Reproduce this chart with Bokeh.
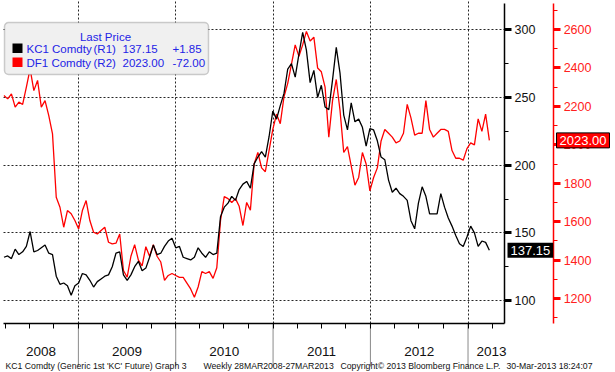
import pandas as pd
from bokeh.plotting import figure
from bokeh.models import (LinearAxis, Range1d, FixedTicker, SingleIntervalTicker,
                          Label, BoxAnnotation)
from bokeh.embed import file_html
from bokeh.resources import INLINE

FONT = "Liberation Sans"

# ---------------- data (bi-weekly readings) ----------------
dates = pd.date_range("2008-03-28", periods=131, freq="14D")

kc1 = [132, 133, 131, 138, 134, 136, 140, 151, 136, 137,
       139, 141, 135, 134, 118, 112, 113, 111, 104, 111,
       113, 120, 119, 115, 110, 114, 116, 118, 119, 125,
       135, 136, 119, 115, 119, 125, 129, 122, 124, 132,
       141, 134, 135, 140, 144, 146, 139, 140, 132, 131,
       130, 132, 139, 135, 132, 136, 134, 135, 162, 169,
       172, 177, 174, 182, 186, 188, 183, 201, 206, 210,
       206, 221, 240, 234, 244, 253, 271, 275, 265, 282,
       298, 285, 261, 270, 250, 259, 243, 241, 263, 287,
       268, 237, 226, 246, 232, 234, 228, 214, 227, 226,
       218, 206, 204, 189, 180, 183, 179, 177, 174, 159,
       153, 172, 184, 177, 164, 164, 164, 179, 169, 161,
       155, 148, 142, 140, 147, 155, 150, 140, 144, 143,
       137.15]

df1 = [2256, 2239, 2265, 2196, 2222, 2210, 2300, 2395, 2282, 2335,
       2196, 2230, 2152, 2057, 1727, 1675, 1571, 1658, 1641, 1606,
       1562, 1658, 1710, 1606, 1545, 1536, 1554, 1571, 1493, 1484,
       1488, 1536, 1346, 1311, 1420, 1480, 1400, 1370, 1470, 1420,
       1480, 1420, 1390, 1294, 1320, 1330, 1320, 1310, 1310, 1280,
       1250, 1207, 1260, 1340, 1330, 1340, 1305, 1360, 1606, 1730,
       1720, 1700, 1720, 1680, 1580, 1700, 1660, 1900, 1960, 1880,
       1860, 1970, 2080, 2160, 2110, 2250, 2320, 2420, 2520, 2460,
       2520, 2590, 2540, 2560, 2400, 2380, 2300, 2040, 2230, 2340,
       2180, 1960, 1990, 1890, 1790, 1830, 1960, 1900, 1760, 1830,
       1880, 2020, 2080, 2060, 2040, 2010, 2020, 2060, 2210, 2140,
       2050, 2060, 2060, 2230, 2080, 2040, 2060, 2080, 2080, 2070,
       1970, 1930, 1930, 1920, 1980, 2010, 2000, 2135, 2070, 2160,
       2023]

year_labels = ["2008", "2009", "2010", "2011", "2012", "2013"]
year_label_dates = ["2008-08-14", "2009-07-02", "2010-07-02", "2011-07-02",
                    "2012-07-02", "2013-03-30"]
year_bounds = ["2009-01-01", "2010-01-01", "2011-01-01", "2012-01-01", "2013-01-01"]
quarter_dates = pd.date_range("2008-04-01", "2013-04-01", freq="QS")
r1_grid_values = [100, 150, 200, 250, 300]

legend_title = "Last Price"
legend_rows = [("KC1 Comdty", "(R1)", "137.15", "+1.85", "black"),
               ("DF1 Comdty", "(R2)", "2023.00", "-72.00", "#ff0000")]
footer_parts = ["KC1 Comdty (Generic 1st 'KC' Future) Graph 3",
                "Weekly 28MAR2008-27MAR2013",
                "Copyright\u00a9 2013 Bloomberg Finance L.P.",
                "30-Mar-2013 18:24:07"]


def ms(d):
    return int(pd.Timestamp(d).value // 10**6)


W, H = 615, 372
X_START, X_END = "2008-03-15", "2014-07-08"
PLOT_LEFT = "2008-03-27"       # left end of axis line / grid
R1_AXIS_AT = "2013-05-18"      # where the R1 (black) axis sits
R2_AXIS_AT = "2013-11-18"      # where the R2 (red) axis sits
R1_RANGE = (46.9, 321.6)
R2_RANGE = (815, 2751)
R1_BOUNDS = (83.3, 319.4)
R2_BOUNDS = (1070, 2735)

p = figure(width=W, height=H, x_axis_type="datetime", y_axis_location="right",
           x_range=Range1d(pd.Timestamp(X_START), pd.Timestamp(X_END)),
           y_range=Range1d(*R1_RANGE),
           output_backend="svg", toolbar_location=None,
           min_border=0, min_border_left=0, min_border_right=0,
           min_border_top=0, min_border_bottom=0,
           background_fill_color="white", border_fill_color="white",
           outline_line_color=None)

p.extra_y_ranges = {"red": Range1d(*R2_RANGE)}

# grids
r1_ticker = SingleIntervalTicker(interval=50, num_minor_ticks=2)
xg, yg = p.xgrid[0], p.ygrid[0]
xg.ticker = FixedTicker(ticks=[ms(d) for d in year_bounds])
yg.ticker = FixedTicker(ticks=r1_grid_values)
for g in (xg, yg):
    g.grid_line_color = "black"
    g.grid_line_dash = "2 2"
    g.grid_line_alpha = 0.85
    g.grid_line_width = 1
try:
    xg.cross_bounds = (R1_BOUNDS[0], R1_RANGE[1])
    yg.cross_bounds = (ms(PLOT_LEFT), ms(R1_AXIS_AT))
except Exception:
    xg.visible = False
    yg.visible = False
    p.segment(x0=[pd.Timestamp(d) for d in year_bounds],
              x1=[pd.Timestamp(d) for d in year_bounds],
              y0=[R1_BOUNDS[0]] * len(year_bounds), y1=[R1_RANGE[1]] * len(year_bounds),
              line_color="black", line_dash="2 2", line_alpha=0.85)
    p.segment(x0=[pd.Timestamp(PLOT_LEFT)] * len(r1_grid_values),
              x1=[pd.Timestamp(R1_AXIS_AT)] * len(r1_grid_values),
              y0=r1_grid_values, y1=r1_grid_values,
              line_color="black", line_dash="2 2", line_alpha=0.85)

# year separators below the time axis
p.segment(x0=[pd.Timestamp(d) for d in year_bounds],
          x1=[pd.Timestamp(d) for d in year_bounds],
          y0=[R1_BOUNDS[0]] * len(year_bounds), y1=[51.3] * len(year_bounds),
          line_color="#8a8a8a", line_width=1)

# lines
p.line(dates, df1, line_color="#ff0000", line_width=1.3, y_range_name="red")
p.line(dates, kc1, line_color="black", line_width=1.3)

# black (R1) axis
ya = p.yaxis[0]
ya.ticker = r1_ticker
ya.fixed_location = ms(R1_AXIS_AT)
ya.bounds = R1_BOUNDS
ya.axis_line_color = "black"
ya.axis_line_width = 1.5
ya.major_tick_in = 0
ya.major_tick_out = 7
ya.major_tick_line_width = 3
ya.major_tick_line_color = "black"
ya.minor_tick_in = 0
ya.minor_tick_out = 4
ya.minor_tick_line_color = "black"
ya.major_label_standoff = 3
ya.major_label_text_font = FONT
ya.major_label_text_font_size = "12.5px"
ya.major_label_text_color = "#111111"

# red (R2) axis
ra = LinearAxis(y_range_name="red",
                ticker=SingleIntervalTicker(interval=200, num_minor_ticks=2))
ra.fixed_location = ms(R2_AXIS_AT)
ra.bounds = R2_BOUNDS
ra.axis_line_color = "#ff0000"
ra.axis_line_width = 1.5
ra.major_tick_in = 0
ra.major_tick_out = 7
ra.major_tick_line_width = 3
ra.major_tick_line_color = "#ff0000"
ra.minor_tick_in = 0
ra.minor_tick_out = 4
ra.minor_tick_line_color = "#ff0000"
ra.major_label_standoff = 3
ra.major_label_text_font = FONT
ra.major_label_text_font_size = "12.5px"
ra.major_label_text_color = "#ff2020"
p.add_layout(ra, "right")

# time axis
xa = p.xaxis[0]
xa.fixed_location = R1_BOUNDS[0]
xa.bounds = (ms(PLOT_LEFT), ms(R1_AXIS_AT))
xa.ticker = FixedTicker(ticks=[ms(d) for d in year_label_dates],
                        minor_ticks=[ms(d) for d in quarter_dates])
xa.major_label_overrides = {ms(d): lab for d, lab in zip(year_label_dates, year_labels)}
xa.major_tick_in = 0
xa.major_tick_out = 0
xa.minor_tick_in = 0
xa.minor_tick_out = 5
xa.minor_tick_line_color = "black"
xa.axis_line_color = "black"
xa.axis_line_width = 1.5
xa.major_label_standoff = 19
xa.major_label_text_font = FONT
xa.major_label_text_font_size = "13.5px"
xa.major_label_text_color = "#111111"

# legend box (screen units: from frame left / frame bottom)
p.add_layout(BoxAnnotation(left=4, right=208, top=350, bottom=298,
                           left_units="screen", right_units="screen",
                           top_units="screen", bottom_units="screen",
                           fill_color="#f0f0f0", fill_alpha=1,
                           line_color="#606060", line_width=1.5, border_radius=4))
p.add_layout(Label(x=105, y=336, x_units="screen", y_units="screen",
                   text=legend_title, text_align="center", text_baseline="middle",
                   text_font=FONT, text_font_size="11.5px", text_color="#2323e6"))
row_y = [324, 310]
for (name, axis_tag, last, chg, col), yy in zip(legend_rows, row_y):
    p.add_layout(BoxAnnotation(left=12, right=22, top=yy + 5, bottom=yy - 4.5,
                               left_units="screen", right_units="screen",
                               top_units="screen", bottom_units="screen",
                               fill_color=col, fill_alpha=1, line_color=None))
    for txt, xx in zip((name, axis_tag, last, chg), (26, 93, 122, 172)):
        p.add_layout(Label(x=xx, y=yy, x_units="screen", y_units="screen", text=txt,
                           text_align="left", text_baseline="middle",
                           text_font=FONT, text_font_size="11.5px",
                           text_color="#2323e6"))

# last-value tags
p.add_layout(Label(x=507, y=kc1[-1], x_units="screen", y_units="data",
                   text="137.15", text_align="left", text_baseline="middle",
                   text_font=FONT, text_font_size="13px", text_color="white",
                   background_fill_color="black", padding=3))
p.add_layout(Label(x=556, y=df1[-1], x_units="screen", y_units="data",
                   y_range_name="red",
                   text="2023.00", text_align="left", text_baseline="middle",
                   text_font=FONT, text_font_size="13px", text_color="white",
                   background_fill_color="#ff0000", border_line_color="black",
                   padding=3))

# footer
for txt, xx in zip(footer_parts, (5, 203, 340, 506)):
    p.add_layout(Label(x=xx, y=7, x_units="screen", y_units="screen", text=txt,
                       text_align="left", text_baseline="middle",
                       text_font=FONT, text_font_size="8.7px", text_color="#111111"))

open("out.html", "w").write(file_html(p, INLINE))
